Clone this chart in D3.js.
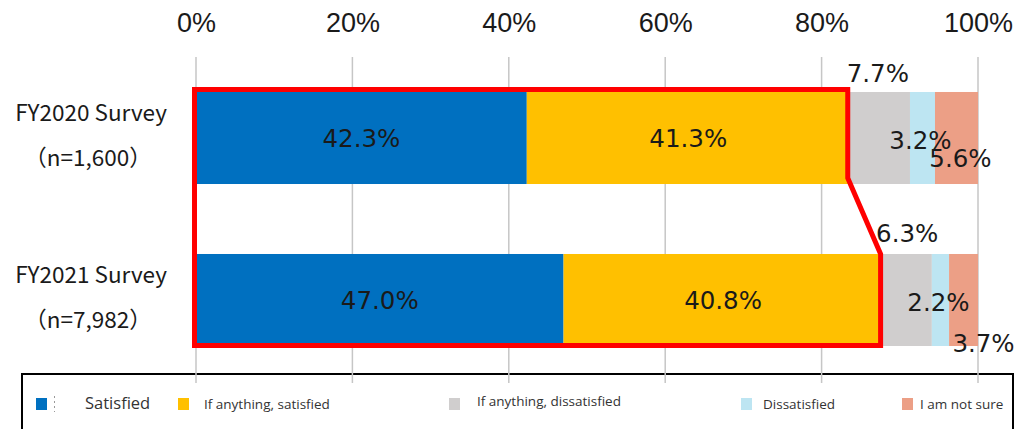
<!DOCTYPE html>
<html>
<head>
<meta charset="utf-8">
<script src="https://cdn.jsdelivr.net/npm/d3@7"></script>
<style>
  html, body { margin: 0; padding: 0; background: #fff; }
  svg { display: block; }
</style>
</head>
<body>
<svg id="chart" width="1015" height="429"></svg>
<script>
// Survey waves (rows) and their sample sizes
const surveys = ["FY2020 Survey", "FY2021 Survey"];
const sampleSizes = ["（n=1,600）", "（n=7,982）"];

// Response categories in stacking order
const responses = ["Satisfied", "If anything, satisfied", "If anything, dissatisfied", "Dissatisfied", "I am not sure"];

// Share of respondents (%) per response, one array per survey
const fy2020 = [42.3, 41.3, 7.7, 3.2, 5.6];
const fy2021 = [47.0, 40.8, 6.3, 2.2, 3.7];

// Axis tick values (%)
const tickValues = [0, 20, 40, 60, 80, 100];

const colors = ["#0070c0", "#ffc000", "#d0cece", "#bde5f2", "#ec9f86"];

// Where the small-segment labels sit: "in" = centred in segment,
// "above" = over the bar; dx/dy are nudges in pixels
const labelPlacement = [
  [null, null, {pos: "above", dx: -2, dy: 0}, {pos: "in", dx: -2, dy: 2}, {pos: "in", dx: 4, dy: 20}],
  [null, null, {pos: "above", dx: 0, dy: -2}, {pos: "in", dx: -2, dy: 2}, {pos: "in", dx: 20, dy: 43}]
];

const rows = [fy2020, fy2021];

const svg = d3.select("#chart");

const x = d3.scaleLinear().domain([0, 100]).range([196, 978]);
const y = d3.scaleBand().domain(surveys).range([57, 381])
  .paddingInner(0.432).paddingOuter(0.216);

// Legend frame (underneath gridlines, which run into its top edge)
const legendBox = {x: 22, y: 374, w: 991, h: 80};
svg.append("rect")
  .attr("x", legendBox.x).attr("y", legendBox.y)
  .attr("width", legendBox.w).attr("height", legendBox.h)
  .attr("fill", "#fff").attr("stroke", "#000").attr("stroke-width", 2);

// Vertical gridlines
svg.append("g").selectAll("line").data(tickValues).join("line")
  .attr("x1", d => x(d)).attr("x2", d => x(d))
  .attr("y1", 57).attr("y2", 383)
  .attr("stroke", "#c6c6c6").attr("stroke-width", 1.5);

// Top axis labels
const axis = d3.axisTop(x).tickValues(tickValues).tickFormat(d => d + "%").tickSize(0).tickPadding(0);
const axisG = svg.append("g").attr("transform", "translate(0,32)").call(axis);
axisG.select(".domain").remove();
axisG.selectAll("text")
  .attr("font-family", "'Liberation Sans Narrow', 'Liberation Sans', sans-serif")
  .attr("font-size", 27).attr("fill", "#1a1a1a");

// Stacked segments
const stacked = rows.map((vals, r) => {
  let acc = 0;
  return vals.map((v, i) => {
    const seg = {row: r, i, v, x0: acc, x1: acc + v};
    acc += v;
    return seg;
  });
});

const barG = svg.append("g");
stacked.forEach((segs, r) => {
  barG.selectAll(null).data(segs).join("rect")
    .attr("x", d => x(d.x0))
    .attr("y", y(surveys[r]))
    .attr("width", d => Math.max(0, Math.min(x(d.x1), x(100)) - x(d.x0)))
    .attr("height", y.bandwidth())
    .attr("fill", d => colors[d.i]);
});

// Red outline around the combined "satisfied" share of both surveys
const top1 = y(surveys[0]), bot1 = top1 + y.bandwidth();
const top2 = y(surveys[1]), bot2 = top2 + y.bandwidth();
const c1 = x(fy2020[0] + fy2020[1]) - 2;
const c2 = x(fy2021[0] + fy2021[1]) - 2;
const x0 = x(0) - 1.5;
const outline = d3.path();
outline.moveTo(x0, top1 - 2.5);
outline.lineTo(c1, top1 - 2.5);
outline.lineTo(c1, bot1 - 6);
outline.lineTo(c2, top2);
outline.lineTo(c2, bot2 - 0.5);
outline.lineTo(x0, bot2 - 0.5);
outline.closePath();
svg.append("path").attr("d", outline.toString())
  .attr("fill", "none").attr("stroke", "#ff0000").attr("stroke-width", 5)
  .attr("stroke-linejoin", "miter");

// Value labels
const labelG = svg.append("g")
  .attr("font-family", "'DejaVu Sans', sans-serif")
  .attr("font-size", 24.5).attr("fill", "#1a1a1a")
  .attr("text-anchor", "middle").attr("dominant-baseline", "central");

stacked.forEach((segs, r) => {
  segs.forEach(d => {
    const cx = (x(d.x0) + x(Math.min(d.x1, 100))) / 2;
    const cy = y(surveys[r]) + y.bandwidth() / 2;
    const p = labelPlacement[r][d.i];
    let lx = cx, ly = cy;
    if (p) {
      if (p.pos === "above") ly = y(surveys[r]) - 18;
      lx += p.dx; ly += p.dy;
    }
    labelG.append("text").attr("x", lx).attr("y", ly).text(d.v.toFixed(1) + "%");
  });
});

// Row labels
const catG = svg.append("g")
  .attr("font-family", "'Noto Sans CJK JP', 'Noto Sans', sans-serif")
  .attr("fill", "#1a1a1a").attr("text-anchor", "middle");
surveys.forEach((s, r) => {
  const cy = y(s) + y.bandwidth() / 2;
  catG.append("text").attr("x", 91).attr("y", cy - 17)
    .attr("font-size", 22.5).text(s);
  catG.append("text").attr("x", 88).attr("y", cy + 28)
    .attr("font-size", 22.5).text(sampleSizes[r]);
});

// Legend entries
svg.append("clipPath").attr("id", "legend-clip")
  .append("rect").attr("x", legendBox.x).attr("y", legendBox.y)
  .attr("width", legendBox.w - 1).attr("height", legendBox.h);

const legendLayout = [
  {sx: 36, tx: 85, size: 16.5, base: 409},
  {sx: 178, tx: 204, size: 13.5, base: 409},
  {sx: 449, tx: 477, size: 13.5, base: 406},
  {sx: 741, tx: 763, size: 13.5, base: 409},
  {sx: 902, tx: 920, size: 13.5, base: 409}
];
const legendG = svg.append("g").attr("clip-path", "url(#legend-clip)");
responses.forEach((name, i) => {
  const L = legendLayout[i];
  legendG.append("rect").attr("x", L.sx).attr("y", 398)
    .attr("width", 11).attr("height", 12).attr("fill", colors[i]);
  legendG.append("text").attr("x", L.tx).attr("y", L.base)
    .attr("font-family", "'Open Sans', 'Noto Sans', sans-serif")
    .attr("font-size", L.size).attr("fill", "#333").text(name);
});
// small dotted separator after the first swatch
legendG.append("line").attr("x1", 54.5).attr("x2", 54.5).attr("y1", 396).attr("y2", 412)
  .attr("stroke", "#999").attr("stroke-width", 1).attr("stroke-dasharray", "2,3");
</script>
</body>
</html>
